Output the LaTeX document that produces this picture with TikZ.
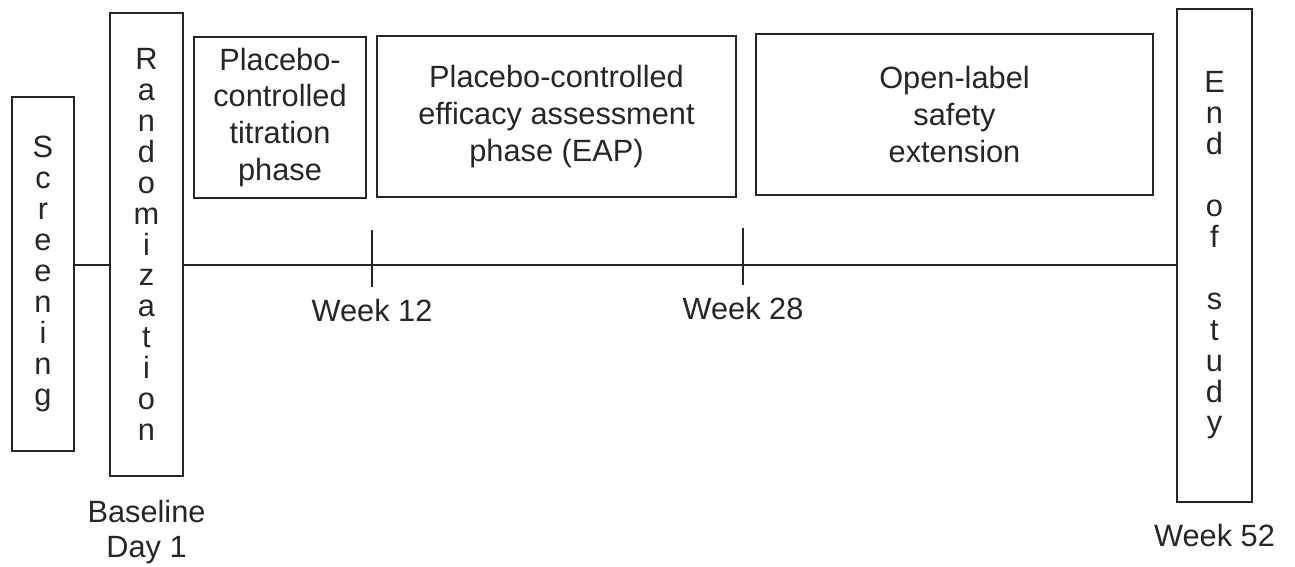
\documentclass[tikz,border=0pt]{standalone}
\usepackage{fontspec}
\setmainfont{Liberation Sans}
\usetikzlibrary{
positioning,
backgrounds
}

\begin{document}
\begin{tikzpicture}[
    x=0.02cm, y=-0.02cm,
    every node/.style={text=black!85},
    phase/.style={draw=black!85, line width=1.1pt, inner sep=0pt,
      minimum height=3.22cm, align=center,
      font=\fontsize{17.5}{21}\selectfont},
    vbox/.style={draw=black!85, line width=1.1pt, inner sep=0pt,
      align=center, font=\fontsize{17.5}{17.6}\selectfont},
    lbl/.style={inner sep=0pt, align=center,
      font=\fontsize{17.5}{20}\selectfont},
    axis/.style={draw=black!85, line width=1.1pt}]
  \useasboundingbox[fill=white] (0,0) rectangle (1295,567);
  \node[vbox, minimum width=1.24cm, minimum height=7.08cm] (screen) at (43,274)
      {S\\c\\r\\e\\e\\n\\i\\n\\g};
  \node[vbox, minimum width=1.46cm, minimum height=9.26cm] (rand) at (146.5,244.5)
      {R\\a\\n\\d\\o\\m\\i\\z\\a\\t\\i\\o\\n};
  \node[phase, minimum width=3.44cm] (titr) at (280,117.5)
      {Placebo-\\controlled\\titration\\phase};
  \node[phase, minimum width=7.18cm] (eap) at (556.5,116.5)
      {Placebo-controlled\\efficacy assessment\\phase (EAP)};
  \node[phase, minimum width=7.94cm] (ole) at (954.5,114.5)
      {Open-label\\safety\\extension};
  \node[vbox, minimum width=1.5cm, minimum height=9.86cm] (endst) at (1214.5,255.5)
      {E\\n\\d\\[17.6pt]o\\f\\[17.6pt]s\\t\\u\\d\\y};
  \coordinate (tl) at (0,265);
  \coordinate (w12) at (372,265);
  \coordinate (w28) at (743,265);
  \path (w12) +(0,-35) coordinate (w12t) +(0,22) coordinate (w12b);
  \path (w28) +(0,-37) coordinate (w28t) +(0,20) coordinate (w28b);
  \node[lbl, below=7pt of w12b] (lw12) {Week 12};
  \node[lbl, below=7pt of w28b] (lw28) {Week 28};
  \node[lbl, below=13pt of rand] (base) {Baseline\\Day 1};
  \node[lbl, below=12pt of endst] (lw52) {Week 52};
  \draw[axis] (screen.east |- tl) -- (rand.west |- tl);
  \draw[axis] (rand.east |- tl) -- (w12) -- (w28) -- (endst.west |- tl);
  \draw[axis] (w12t) -- (w12b);
  \draw[axis] (w28t) -- (w28b);
\end{tikzpicture}
\end{document}
